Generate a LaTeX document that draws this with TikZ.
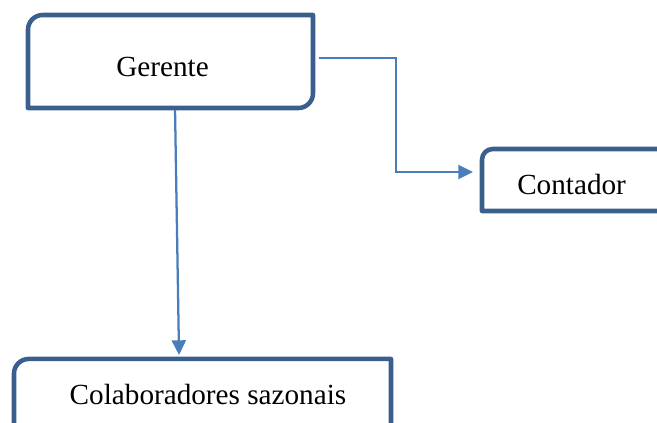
\documentclass[tikz,border=0pt]{standalone}
\usepackage{fontspec}
\setmainfont{Liberation Serif}
\usetikzlibrary{arrows.meta,calc}
\definecolor{boxblue}{HTML}{3B5F8D}
\definecolor{linkblue}{HTML}{4A7EBB}
\tikzset{
  boxarea/.style={draw=none,inner sep=0pt,outer sep=0pt,minimum width=#1},
  boxline/.style={draw=boxblue,line width=3.4pt,line join=round},
  lbl/.style={inner sep=0pt,anchor=base,font=\fontsize{21.9}{26}\selectfont},
  conn/.style={draw=linkblue,line width=1.7pt,-{Triangle[length=11pt,width=10.5pt]}}
}
\newcommand{\diagbox}[2]{% node name, radius
  \draw[boxline] (#1.south west) -- ([yshift=-#2]#1.north west)
    arc[start angle=180,end angle=90,radius=#2] -- (#1.north east)
    -- ([yshift=#2]#1.south east)
    arc[start angle=0,end angle=-90,radius=#2] -- cycle;}
\begin{document}
\begin{tikzpicture}[x=0.75pt,y=-0.75pt]
\useasboundingbox (0,0) rectangle (657,422);
\clip (0,0) rectangle (657,422);
% boxes
\node[boxarea=213.75pt,minimum height=69.75pt] (g) at (170.5,61.5) {};
\node[boxarea=156pt,minimum height=46.5pt] (c) at (586,180) {};
\node[boxarea=282.75pt,minimum height=68pt] (s) at (202.5,404.3) {};
\diagbox{g}{11pt}
\diagbox{c}{8pt}
\diagbox{s}{11pt}
% texts
\node[lbl] (gt) at (162.5,76) {Gerente};
\node[lbl,anchor=base west] (ct) at (517,194) {Contador};
\node[lbl] (st) at (208,404) {Colaboradores sazonais};
% connectors
\draw[conn] ([xshift=4.5pt,yshift=2.6pt]g.east) -- ++(77,0)
  |- ([xshift=-6.75pt,yshift=6pt]c.west);
\draw[conn] ([xshift=3.4pt,yshift=-1.5pt]g.south) -- ([xshift=-17.6pt,yshift=3pt]s.north);
\end{tikzpicture}
\end{document}
